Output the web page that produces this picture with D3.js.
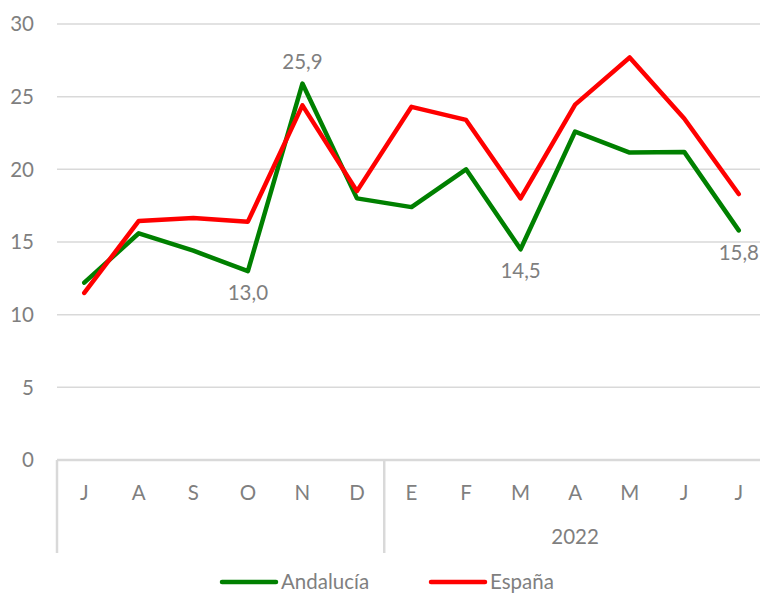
<!DOCTYPE html>
<html><head><meta charset="utf-8">
<script src="https://cdn.jsdelivr.net/npm/d3@7"></script>
<style>body{margin:0;background:#fff;} text{font-family:Lato,"Open Sans",sans-serif;fill:#7f7f7f;}</style>
</head><body>
<svg id="c" width="760" height="594"></svg>
<script>
const months = ["J","A","S","O","N","D","E","F","M","A","M","J","J"];
const groups = [{label:"", start:0, end:6},{label:"2022", start:6, end:13}];
const andalucia = [12.2,15.6,14.4,13.0,25.9,18.0,17.4,20.0,14.5,22.6,21.15,21.2,15.8];
const espana = [11.5,16.45,16.65,16.4,24.4,18.5,24.3,23.4,18.0,24.45,27.7,23.5,18.3];
const yTicks = [0,5,10,15,20,25,30];
const labelled = [{i:3, pos:"below"},{i:4,pos:"above"},{i:8,pos:"below"},{i:12,pos:"below"}];
const fs = "20.5px";

const svg = d3.select("#c");
const x = d3.scaleBand().domain(d3.range(months.length)).range([57,766]);
const y = d3.scaleLinear().domain([0,30]).range([460,24]);

svg.append("g").selectAll("line").data(yTicks.filter(d=>d>0)).join("line")
  .attr("x1",57).attr("x2",766).attr("y1",d=>y(d)).attr("y2",d=>y(d))
  .attr("stroke","#d9d9d9").attr("stroke-width",1.5);
svg.append("g").selectAll("text").data(yTicks).join("text")
  .attr("x",34).attr("y",d=>y(d)).attr("dy","0.35em").attr("text-anchor","end")
  .style("font-size",fs).text(d=>d);
svg.append("line").attr("x1",57).attr("x2",766).attr("y1",y(0)).attr("y2",y(0))
  .attr("stroke","#d9d9d9").attr("stroke-width",2.5);
const seps = [0,6,13];
svg.append("g").selectAll("line").data(seps).join("line")
  .attr("x1",d=>x.range()[0]+d*x.step()).attr("x2",d=>x.range()[0]+d*x.step())
  .attr("y1",y(0)).attr("y2",553).attr("stroke","#d9d9d9").attr("stroke-width",2.5);
svg.append("g").selectAll("text").data(months).join("text")
  .attr("x",(d,i)=>x(i)+x.bandwidth()/2).attr("y",493).attr("dy","0.35em")
  .attr("text-anchor","middle").style("font-size",fs).text(d=>d);
svg.append("g").selectAll("text").data(groups).join("text")
  .attr("x",g=>(x.range()[0]+g.start*x.step()+x.range()[0]+g.end*x.step())/2)
  .attr("y",537).attr("dy","0.35em").attr("text-anchor","middle")
  .style("font-size",fs).text(g=>g.label);

const line = d3.line().x((d,i)=>x(i)+x.bandwidth()/2).y(d=>y(d));
const series = [{name:"Andalucía", values:andalucia, color:"#008000"},{name:"España", values:espana, color:"#ff0000"}];
svg.append("g").selectAll("path").data(series).join("path")
  .attr("d",s=>line(s.values)).attr("fill","none").attr("stroke",s=>s.color)
  .attr("stroke-width",4.5).attr("stroke-linejoin","round").attr("stroke-linecap","round");

svg.append("g").selectAll("text").data(labelled).join("text")
  .attr("x",d=> d.i===12 ? 759 : x(d.i)+x.bandwidth()/2)
  .attr("y",d=> d.pos==="above" ? y(andalucia[d.i])-22 : y(andalucia[d.i])+22)
  .attr("dy","0.35em").attr("text-anchor",d=> d.i===12 ? "end" : "middle")
  .style("font-size",fs).text(d=>d3.format(".1f")(andalucia[d.i]).replace(".",","));

const leg = [{name:"Andalucía",color:"#008000",x0:222},{name:"España",color:"#ff0000",x0:431}];
const lg = svg.append("g").selectAll("g").data(leg).join("g");
lg.append("line").attr("x1",d=>d.x0).attr("x2",d=>d.x0+54).attr("y1",582).attr("y2",582)
  .attr("stroke",d=>d.color).attr("stroke-width",4.5).attr("stroke-linecap","round");
lg.append("text").attr("x",d=>d.x0+59).attr("y",582).attr("dy","0.35em")
  .style("font-size",fs).text(d=>d.name);
</script>
</body></html>
